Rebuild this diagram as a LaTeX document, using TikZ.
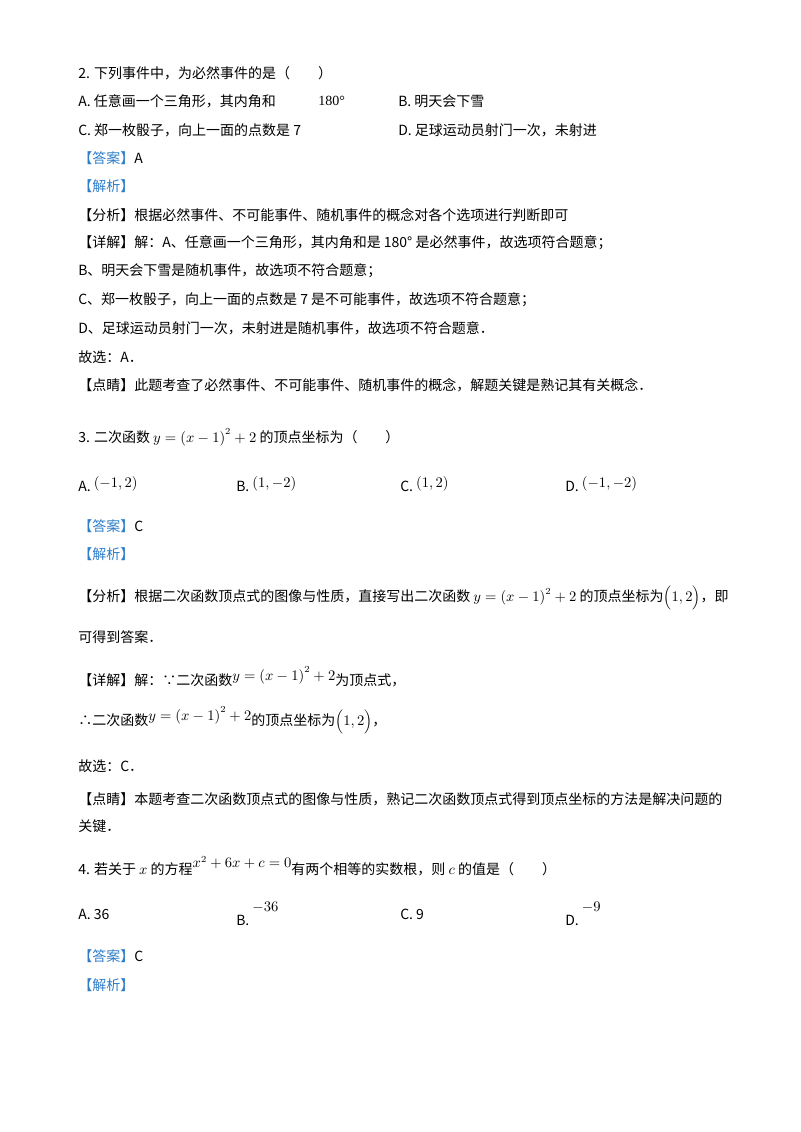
\documentclass[tikz,border=0pt]{standalone}
\usepackage{fontspec}
\setmainfont{Liberation Serif}
\newfontfamily\cjk{Noto Sans CJK SC}
\definecolor{hdblue}{RGB}{45,125,200}
\newcommand{\hb}[1]{{\color{hdblue}【#1】}}
\newcommand{\hk}[1]{【#1】}
\begin{document}
\begin{tikzpicture}[x=0.75pt,y=-0.75pt,
 txt/.style={anchor=west,inner sep=0pt,font=\fontsize{10.5pt}{12pt}\cjk}]
\useasboundingbox (0,0) rectangle (800,1132);
\node[txt] (l1) at (78,73) {2. 下列事件中，为必然事件的是（\hspace{2em}）};
\node[txt] (l2a) at (78,101) {A. 任意画一个三角形，其内角和};
\node[txt] (l2b) at (318,101) {\rmfamily 180°};
\node[txt] (l2c) at (398,101) {B. 明天会下雪};
\node[txt] (l3a) at (78,130) {C. 郑一枚骰子，向上一面的点数是 7};
\node[txt] (l3b) at (398,130) {D. 足球运动员射门一次，未射进};
\node[txt] (l4) at (78,158) {\hb{答案}A};
\node[txt] (l5) at (78,186) {\hb{解析}};
\node[txt] (l6) at (78,215) {\hk{分析}根据必然事件、不可能事件、随机事件的概念对各个选项进行判断即可};
\node[txt] (l7) at (78,243) {\hk{详解}解：A、任意画一个三角形，其内角和是 180° 是必然事件，故选项符合题意；};
\node[txt] (l8) at (78,271) {B、明天会下雪是随机事件，故选项不符合题意；};
\node[txt] (l9) at (78,300) {C、郑一枚骰子，向上一面的点数是 7 是不可能事件，故选项不符合题意；};
\node[txt] (l10) at (78,328) {D、足球运动员射门一次，未射进是随机事件，故选项不符合题意．};
\node[txt] (l11) at (78,357) {故选：A．};
\node[txt] (l12) at (78,385) {\hk{点睛}此题考查了必然事件、不可能事件、随机事件的概念，解题关键是熟记其有关概念．};
\node[txt] (q3) at (78,437) {3. 二次函数 $y=\left(x-1\right)^2+2$ 的顶点坐标为（\hspace{2em}）};
\node[txt] (q3a) at (78,484) {A. \raisebox{3pt}{$\left(-1,2\right)$}};
\node[txt] (q3b) at (236,484) {B. \raisebox{3pt}{$\left(1,-2\right)$}};
\node[txt] (q3c) at (400,484) {C. \raisebox{3pt}{$\left(1,2\right)$}};
\node[txt] (q3d) at (565,484) {D. \raisebox{3pt}{$\left(-1,-2\right)$}};
\node[txt] (a3) at (78,526) {\hb{答案}C};
\node[txt] (j3) at (78,554) {\hb{解析}};
\node[txt] (f3) at (78,598) {\hk{分析}根据二次函数顶点式的图像与性质，直接写出二次函数 $y=\left(x-1\right)^2+2$ 的顶点坐标为$\Big(1,2\Big)$，即};
\node[txt] (f3b) at (78,637) {可得到答案．};
\node[txt] (x3) at (78,677) {\hk{详解}解：∵二次函数\raisebox{4pt}{$y=\left(x-1\right)^2+2$}为顶点式，};
\node[txt] (x3b) at (78,720) {∴二次函数\raisebox{4pt}{$y=\left(x-1\right)^2+2$}的顶点坐标为$\Big(1,2\Big)$，};
\node[txt] (g3) at (78,766) {故选：C．};
\node[txt] (d3) at (78,799) {\hk{点睛}本题考查二次函数顶点式的图像与性质，熟记二次函数顶点式得到顶点坐标的方法是解决问题的};
\node[txt] (d3b) at (78,826) {关键．};
\node[txt] (q4) at (78,866) {4. 若关于 $x$ 的方程\raisebox{5pt}{$x^2+6x+c=0$}有两个相等的实数根，则 $c$ 的值是（\hspace{2em}）};
\node[txt] (q4a) at (78,914) {A. 36};
\node[txt] (q4b) at (236,914) {B. \raisebox{10pt}{$-36$}};
\node[txt] (q4c) at (400,914) {C. 9};
\node[txt] (q4d) at (565,914) {D. \raisebox{10pt}{$-9$}};
\node[txt] (a4) at (78,956) {\hb{答案}C};
\node[txt] (j4) at (78,985) {\hb{解析}};
\end{tikzpicture}
\end{document}
